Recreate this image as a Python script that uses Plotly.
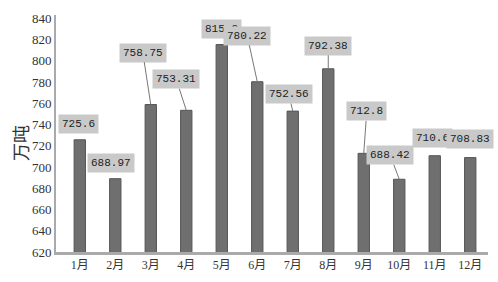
import plotly.graph_objects as go

months = ["1月", "2月", "3月", "4月", "5月", "6月", "7月", "8月", "9月", "10月", "11月", "12月"]
values = [725.6, 688.97, 758.75, 753.31, 815.2, 780.22, 752.56, 792.38, 712.8, 688.42, 710.6, 708.83]
labels = ["725.6", "688.97", "758.75", "753.31", "815.2", "780.22", "752.56", "792.38", "712.8", "688.42", "710.6", "708.83"]
y_ticks = [620, 640, 660, 680, 700, 720, 740, 760, 780, 800, 820, 840]

# label box offsets in pixels (style/position only)
label_dx = [-1, -4, -8, -10, 0, -10, -4, 0, 3, -9, -2, 0]
label_dy = [-16, -16, -52, -31, -16, -46, -17, -23, -42, -24, -18, -19]
show_leader = [False, False, True, True, False, True, True, True, True, True, False, False]

fig = go.Figure()
fig.add_trace(go.Bar(
    x=list(range(len(months))), y=values, width=0.32,
    marker=dict(color="#6f6f6f", line=dict(color="#555555", width=1)),
))

for i, (v, t) in enumerate(zip(values, labels)):
    fig.add_annotation(
        x=i, y=v, xref="x", yref="y", text=t,
        showarrow=True, ax=label_dx[i], ay=label_dy[i],
        arrowhead=0, arrowwidth=1,
        arrowcolor="#777777" if show_leader[i] else "rgba(0,0,0,0)",
        bgcolor="#c9c9c9", borderpad=3,
        font=dict(family="Liberation Mono", size=11, color="#222222"),
    )

fig.add_annotation(
    x=(20 - 56) / 432, y=0.46, xref="paper", yref="paper", text="万吨",
    xanchor="center", yanchor="middle",
    textangle=-90, showarrow=False,
    font=dict(family="Noto Sans CJK SC", size=18, color="#333333"),
)

fig.update_layout(
    width=498, height=282,
    margin=dict(l=56, r=10, t=15, b=28),
    plot_bgcolor="white", paper_bgcolor="white",
    showlegend=False,
    xaxis=dict(
        range=[-0.67, 11.5], tickmode="array",
        tickvals=list(range(len(months))), ticktext=months,
        showline=True, linecolor="#aaaaaa", linewidth=3,
        showgrid=False, zeroline=False, ticks="",
        tickfont=dict(family="Liberation Serif, Noto Sans CJK SC", size=12, color="#333333"),
    ),
    yaxis=dict(
        range=[620, 843], tickmode="array", tickvals=y_ticks,
        showline=True, linecolor="#aaaaaa", linewidth=2,
        showgrid=False, zeroline=False, ticks="",
        tickfont=dict(family="Liberation Serif", size=13, color="#333333"),
    ),
)

fig.write_html("out.html")
